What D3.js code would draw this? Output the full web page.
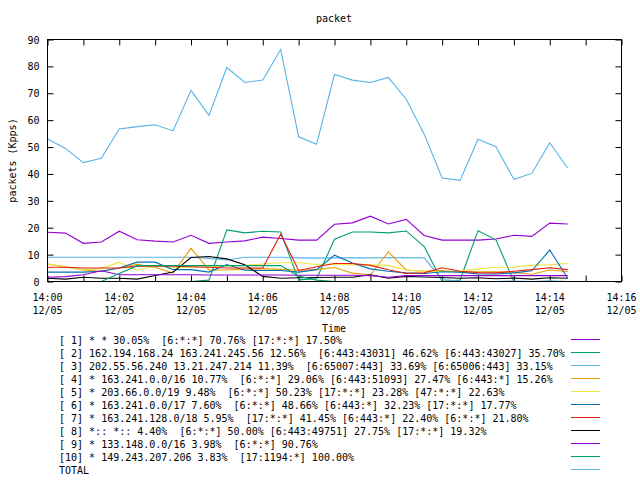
<!DOCTYPE html>
<html><head><meta charset="utf-8">
<script src="https://cdn.jsdelivr.net/npm/d3@7"></script>
<style>
html,body{margin:0;padding:0;background:#fff;}
text{font-family:"DejaVu Sans Mono","Liberation Mono",monospace;font-size:10px;fill:#000;white-space:pre;}
</style></head>
<body><svg id="c" width="640" height="480"></svg>
<script>
// ---- data ----
const chartTitle = "packet";
const xTitle = "Time";
const yTitle = "packets (Kpps)";
const day = "2013-12-05";
const times = ["14:00:00","14:00:30","14:01:00","14:01:30","14:02:00","14:02:30","14:03:00","14:03:30",
  "14:04:00","14:04:30","14:05:00","14:05:30","14:06:00","14:06:30","14:07:00","14:07:30",
  "14:08:00","14:08:30","14:09:00","14:09:30","14:10:00","14:10:30","14:11:00","14:11:30",
  "14:12:00","14:12:30","14:13:00","14:13:30","14:14:00","14:14:30"];
const xDomain = ["14:00:00","14:16:00"];
const yDomain = [0, 90];
const yTicks = [0,10,20,30,40,50,60,70,80,90];

const s1  = [18.3,18.0,14.2,14.7,18.7,15.5,15.0,14.7,17.2,14.2,14.7,15.1,16.5,16.0,15.4,15.4,21.3,21.8,24.3,21.4,23.1,17.1,15.4,15.4,15.4,15.8,17.2,16.8,21.7,21.4];
const s2  = [0,0,0,0,0,0,0,0,0,0.5,19.2,18.1,18.7,18.4,0.6,1.0,15.7,18.4,18.4,18.1,18.8,13.0,0,0.5,18.9,15.5,0,0,0,0];
const s3  = [9.0,9.0,9.0,9.0,9.0,9.0,9.0,9.0,9.0,8.6,8.0,9.0,9.0,9.0,8.8,8.7,8.8,8.8,8.8,8.9,8.8,8.8,0.7,0.2,0.0,0.0,0.2,0.0,0.3,0.0];
const s4  = [6.5,5.5,4.3,3.8,5.0,6.4,5.3,3.1,12.4,4.3,4.3,4.6,4.8,4.5,4.2,4.4,5.2,3.1,2.5,11.0,4.3,3.8,4.1,3.5,3.6,3.6,3.4,2.7,4.3,3.7];
const s5  = [6.5,5.3,4.4,4.8,7.2,4.2,5.7,5.1,5.3,5.5,5.8,6.0,6.5,7.0,7.0,6.3,6.5,6.2,6.2,6.0,4.3,3.7,3.7,4.0,4.6,5.3,5.3,6.1,6.2,6.8];
const s6  = [3.5,3.5,3.5,3.8,5.0,7.2,7.2,4.4,4.4,3.5,6.3,4.2,4.1,4.1,3.5,4.4,9.8,6.9,4.7,3.8,3.2,3.0,3.6,3.5,2.8,2.8,3.2,4.0,11.7,1.2];
const s7  = [5.3,5.3,5.0,5.0,5.0,5.7,5.8,5.7,5.5,5.3,5.0,5.0,5.0,17.6,4.1,5.5,6.7,6.7,6.0,4.4,3.0,3.2,5.1,3.8,3.3,3.2,3.8,4.4,5.1,4.4];
const s8  = [1.2,0.9,1.6,1.2,1.2,0.9,2.2,3.5,8.9,9.3,8.4,6.2,1.9,1.2,1.4,1.5,1.6,1.6,2.5,1.2,1.9,1.7,1.5,1.2,1.4,1.0,1.3,0.9,1.4,1.2];
const s9  = [1.6,1.8,2.5,4.0,2.5,2.5,2.5,2.5,2.5,2.4,2.4,2.4,2.4,2.4,2.3,2.3,2.3,2.3,2.2,1.6,2.2,2.2,2.2,2.2,2.2,2.2,2.2,2.2,2.2,2.2];
const s10 = [0,0,0,0,3.0,5.9,5.9,5.9,5.9,5.9,5.9,5.9,5.9,5.9,2.0,0.5,0,0,0,0,0,0,0,0,0,0,0,0,0,0];
const total = [53.0,49.5,44.2,45.8,56.7,57.6,58.3,56.0,71.1,61.8,79.6,74.0,74.9,86.3,53.8,51.0,77.0,74.9,74.0,75.9,67.8,54.8,38.5,37.6,52.9,50.1,38.0,40.2,51.6,42.1];

const seriesLabels = [
 "[ 1] * * 30.05%  [6:*:*] 70.76% [17:*:*] 17.50%",
 "[ 2] 162.194.168.24 163.241.245.56 12.56%  [6:443:43031] 46.62% [6:443:43027] 35.70%",
 "[ 3] 202.55.56.240 13.21.247.214 11.39%  [6:65007:443] 33.69% [6:65006:443] 33.15%",
 "[ 4] * 163.241.0.0/16 10.77%  [6:*:*] 29.06% [6:443:51093] 27.47% [6:443:*] 15.26%",
 "[ 5] * 203.66.0.0/19 9.48%  [6:*:*] 50.23% [17:*:*] 23.28% [47:*:*] 22.63%",
 "[ 6] * 163.241.0.0/17 7.60%  [6:*:*] 48.66% [6:443:*] 32.23% [17:*:*] 17.77%",
 "[ 7] * 163.241.128.0/18 5.95%  [17:*:*] 41.45% [6:443:*] 22.40% [6:*:*] 21.80%",
 "[ 8] *:: *:: 4.40%  [6:*:*] 50.00% [6:443:49751] 27.75% [17:*:*] 19.32%",
 "[ 9] * 133.148.0.0/16 3.98%  [6:*:*] 90.76%",
 "[10] * 149.243.207.206 3.83%  [17:1194:*] 100.00%",
 "TOTAL"
];
const seriesColors = ["#9400d3","#009e73","#56b4e9","#e69f00","#f0e442","#0072b2","#e51e10","#000000","#9400d3","#009e73","#56b4e9"];
const seriesValues = [s1,s2,s3,s4,s5,s6,s7,s8,s9,s10,total];

// ---- drawing ----
const svg = d3.select("#c");
svg.append("rect").attr("width",640).attr("height",480).attr("fill","#fff");
const parse = d3.timeParse("%Y-%m-%d %H:%M:%S");
const dates = times.map(t => parse(day + " " + t));
const L = 47.5, R = 621.5, T = 39.5, B = 281.5;
const x = d3.scaleTime().domain(xDomain.map(t => parse(day+" "+t))).range([L, R]);
const y = d3.scaleLinear().domain(yDomain).range([B, T]);

// axes (ticks inward, mirrored)
const minuteTicks = d3.timeMinute.every(1);
const gB = svg.append("g").attr("transform",`translate(0,${B})`)
  .call(d3.axisBottom(x).ticks(minuteTicks).tickSize(-6).tickFormat(() => ""));
const gT = svg.append("g").attr("transform",`translate(0,${T})`)
  .call(d3.axisTop(x).ticks(minuteTicks).tickSize(-6).tickFormat(() => ""));
const gL = svg.append("g").attr("transform",`translate(${L},0)`)
  .call(d3.axisLeft(y).tickValues(yTicks).tickSize(-6).tickPadding(8));
const gR = svg.append("g").attr("transform",`translate(${R},0)`)
  .call(d3.axisRight(y).tickValues(yTicks).tickSize(-6).tickFormat(() => ""));
[gB,gT,gL,gR].forEach(g => {
  g.select(".domain").remove();
  g.selectAll("line").attr("stroke","#000");
  g.selectAll("text").attr("font-family",null).attr("font-size",null);
});
gL.selectAll("text").attr("dy","0.35em");

// two-line time labels every 2 minutes
const f1 = d3.timeFormat("%H:%M"), f2 = d3.timeFormat("%m/%d");
const labTicks = x.ticks(d3.timeMinute.every(2));
const lab = svg.append("g").selectAll("text").data(labTicks).join("text")
  .attr("x", d => x(d)).attr("text-anchor","middle");
lab.append("tspan").attr("x", d => x(d)).attr("y", 301).text(d => f1(d));
lab.append("tspan").attr("x", d => x(d)).attr("y", 314).text(d => f2(d));

// series lines
const line = d3.line().x((d,i) => x(dates[i])).y(d => y(d));
seriesValues.forEach((vals, k) => {
  svg.append("path").datum(vals).attr("d", line)
    .attr("fill","none").attr("stroke", seriesColors[k]).attr("stroke-width",1.1);
});

// frame
svg.append("rect").attr("x",L).attr("y",T).attr("width",R-L).attr("height",B-T)
  .attr("fill","none").attr("stroke","#000").attr("stroke-width",1);

// titles
svg.append("text").attr("x",334).attr("y",22).attr("text-anchor","middle").text(chartTitle);
svg.append("text").attr("x",334).attr("y",332).attr("text-anchor","middle").text(xTitle);
svg.append("text").attr("transform","translate(16,160.5) rotate(-90)").attr("text-anchor","middle").text(yTitle);

// legend
const lg = svg.append("g").selectAll("g").data(seriesLabels).join("g")
  .attr("transform",(d,i) => `translate(0,${339.5 + 13*i})`);
lg.append("text").attr("x",59).attr("y",4).text(d => d);
lg.append("line").attr("x1",571).attr("x2",600).attr("y1",0).attr("y2",0)
  .attr("stroke",(d,i) => seriesColors[i]).attr("stroke-width",1);
</script></body></html>
